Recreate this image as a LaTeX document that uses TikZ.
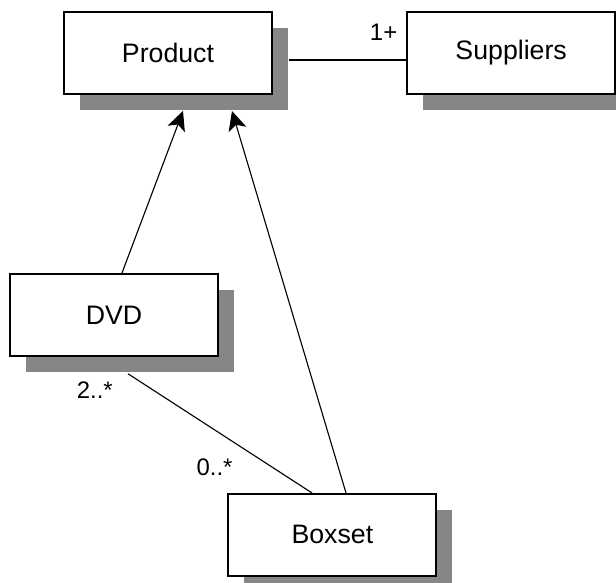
\documentclass[tikz,border=0pt]{standalone}
\usepackage{fontspec}
\setmainfont{Liberation Sans}
\usetikzlibrary{positioning,shadows,arrows.meta}

\tikzset{
  cls/.style={draw, line width=1.4pt, fill=white, minimum width=5.2cm, minimum height=2.05cm,
    font=\fontsize{19}{22}\selectfont,
    drop shadow={shadow xshift=0.4cm, shadow yshift=-0.4cm, fill=gray!95, opacity=1}},
  assoc/.style={line width=0.8pt},
  gen/.style={line width=0.8pt, -{Stealth[length=0.48cm, width=0.46cm, inset=0.12cm]}},
  mult/.style={font=\fontsize{17}{20}\selectfont}
}

\begin{document}
\begin{tikzpicture}
\useasboundingbox (-4.2,1.325) rectangle (11.2,-13.25);
\node[cls](product){Product};
\node[cls, right=3.33cm of product](suppliers){Suppliers};
\node[cls, below=4.45cm of product, xshift=-1.35cm](dvd){DVD};
\node[cls, below=3.4cm of dvd, xshift=5.46cm](boxset){Boxset};

\draw[assoc]([xshift=0.4cm, yshift=-0.175cm]product.east)--([yshift=-0.175cm]suppliers.west);
\node[mult, above left=0.2cm and 0.1cm of suppliers.west](m1){1+};

\draw[gen]([xshift=0.2cm]dvd.north)--([xshift=0.375cm, yshift=-0.4cm]product.south);
\draw[gen]([xshift=0.34cm]boxset.north)--([xshift=1.6cm, yshift=-0.4cm]product.south);

\draw[assoc]([xshift=0.35cm, yshift=-0.42cm]dvd.south)--([xshift=-0.51cm]boxset.north);
\node[mult, below=0.5cm of dvd.south, xshift=-0.48cm](m2){2..*};
\node[mult, above left=0.3cm and 0.05cm of boxset.north west, xshift=0.3cm](m3){0..*};
\end{tikzpicture}
\end{document}
